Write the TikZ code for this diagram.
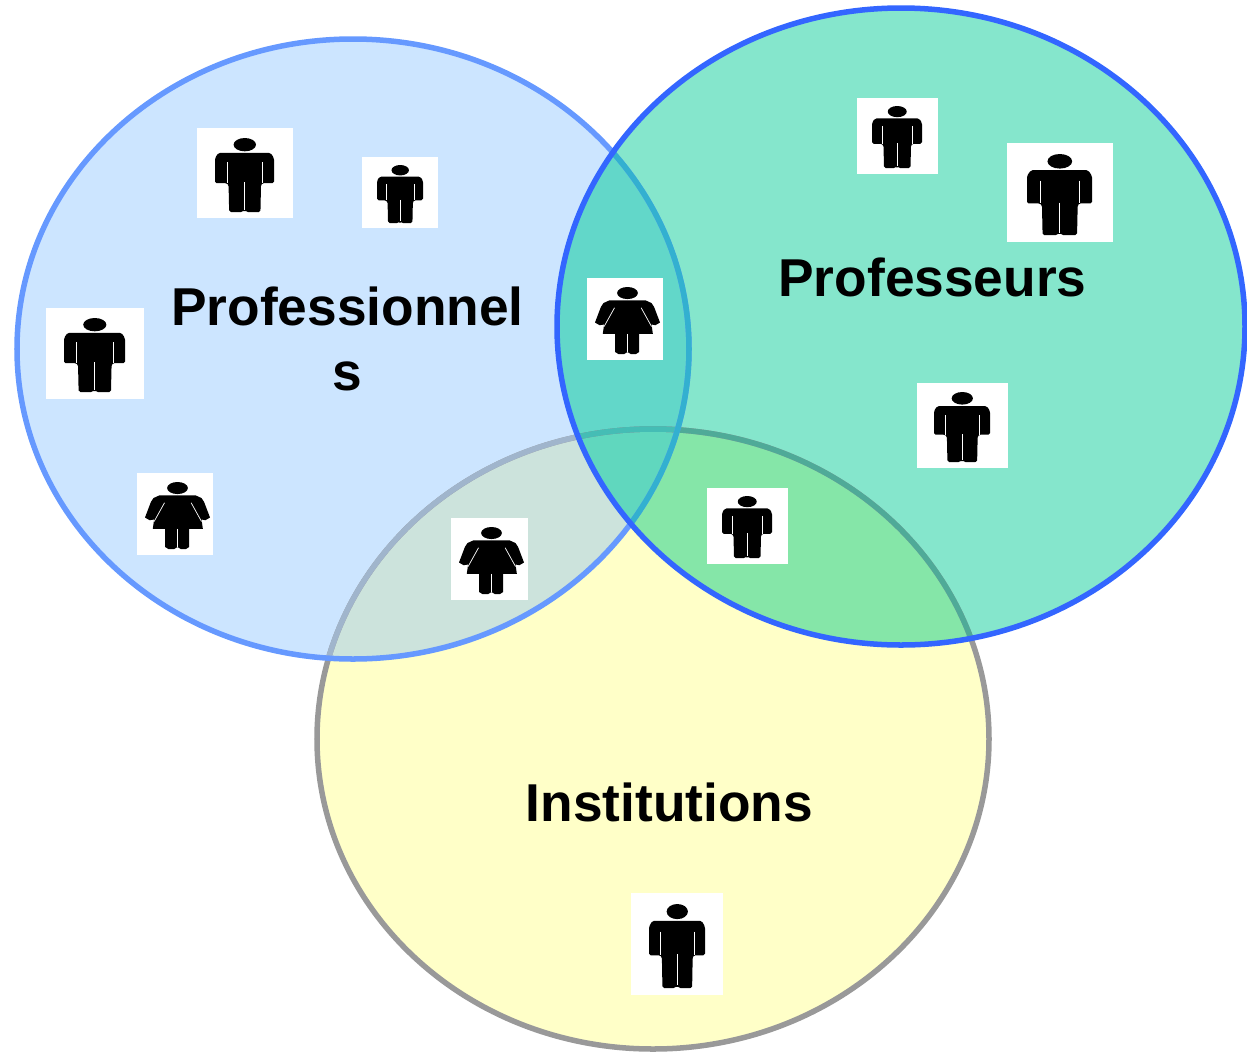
\documentclass[tikz,border=0pt]{standalone}
\usepackage{fontspec}
\setmainfont{Liberation Sans}
\definecolor{yfill}{HTML}{FFFFC8}
\definecolor{bfill}{HTML}{CCE5FF}
\definecolor{tfill}{HTML}{85E6CC}
\definecolor{ybfill}{HTML}{CCE3DC}
\definecolor{tbfill}{HTML}{62D7C9}
\definecolor{tyfill}{HTML}{85E6A8}
\definecolor{tbyfill}{HTML}{60D7BE}
\definecolor{gline}{HTML}{999999}
\definecolor{gbline}{HTML}{A0B5CC}
\definecolor{gtline}{HTML}{4FAA98}
\definecolor{gtbline}{HTML}{45BDB5}
\definecolor{bline}{HTML}{6699FF}
\definecolor{btline}{HTML}{33B0D0}
\definecolor{tline}{HTML}{3366FF}
\newcommand{\ellB}{(353,349) ellipse [x radius=336,y radius=310]}
\newcommand{\ellT}{(901,326.5) ellipse [x radius=344,y radius=318.5]}
\newcommand{\ellY}{(653,739) ellipse [x radius=336,y radius=310]}
\tikzset{
  ring/.style={line width=4.7pt},
  setlabel/.style={font=\fontsize{45.5}{55.5}\selectfont\bfseries,text=black,inner sep=0pt,align=center}
}
% box x0 y0 x1 y1, figure x0 y0 x1 y1
\newcommand{\manfig}[8]{%
  \fill[white] (#1,#2) rectangle (#3,#4);
  \begin{scope}[shift={(#5,#6)},x={({(#7-#5)*0.03cm},0)},y={(0,{-(#8-#6)*0.03cm})}]
    \fill[black] (.505,.09) ellipse [x radius=.19,y radius=.09];
    \fill[black,rounded corners=1.4pt] (.06,.2) -- (.94,.2) -- (1,.27) -- (1,.61) -- (.8,.61) -- (.78,.63) -- (.77,1) -- (.53,1) -- (.5,.97) -- (.47,1) -- (.24,1) -- (.23,.63) -- (.2,.61) -- (0,.61) -- (0,.27) -- cycle;
    \draw[white,line width=.45pt] (.5,.6) -- (.5,.97);
    \draw[white,line width=.4pt] (.2,.33) -- (.2,.61);
    \draw[white,line width=.4pt] (.8,.33) -- (.8,.61);
  \end{scope}}
\newcommand{\womanfig}[8]{%
  \fill[white] (#1,#2) rectangle (#3,#4);
  \begin{scope}[shift={(#5,#6)},x={({(#7-#5)*0.03cm},0)},y={(0,{-(#8-#6)*0.03cm})}]
    \fill[black] (.5,.09) ellipse [x radius=.16,y radius=.09];
    \fill[black] (.22,.2) -- (.78,.2) -- (.87,.24) -- (.91,.3) -- (1,.53) -- (.93,.57) -- (.87,.56) -- (.89,.7) -- (.68,.7) -- (.68,.97) -- (.63,1) -- (.55,1) -- (.5,.97) -- (.45,1) -- (.36,1) -- (.31,.97) -- (.31,.7) -- (.12,.7) -- (.14,.56) -- (.07,.57) -- (0,.53) -- (.09,.3) -- (.13,.24) -- cycle;
    \draw[white,line width=.6pt] (.5,.7) -- (.5,.97);
    \draw[white,line width=.6pt] (.3,.31) -- (.14,.59);
    \draw[white,line width=.6pt] (.71,.31) -- (.87,.59);
  \end{scope}}
\begin{document}
\begin{tikzpicture}[x=0.03cm,y=-0.03cm]
\useasboundingbox (0,0) rectangle (1247,1051);
% fills
\fill[yfill] \ellY;
\fill[bfill] \ellB;
\begin{scope}\clip \ellB; \fill[ybfill] \ellY; \end{scope}
\fill[tfill] \ellT;
\begin{scope}\clip \ellT; \fill[tbfill] \ellB; \fill[tyfill] \ellY;
  \begin{scope}\clip \ellB; \fill[tbyfill] \ellY; \end{scope}
\end{scope}
% institutions ring
\draw[ring,gline] \ellY;
\begin{scope}\clip \ellB; \draw[ring,gbline] \ellY; \end{scope}
\begin{scope}\clip \ellT; \draw[ring,gtline] \ellY;
  \begin{scope}\clip \ellB; \draw[ring,gtbline] \ellY; \end{scope}
\end{scope}
% professionnels ring
\draw[ring,bline] \ellB;
\begin{scope}\clip \ellT; \draw[ring,btline] \ellB; \end{scope}
% professeurs ring
\draw[ring,tline] \ellT;
% figures
\manfig{197}{128}{293}{218}{215}{138}{274}{212}
\manfig{362}{157}{438}{228}{377}{165}{423}{223}
\manfig{46}{308}{144}{399}{64}{318}{125}{392}
\womanfig{137}{473}{213}{555}{145}{482}{210}{549}
\womanfig{587}{278}{663}{360}{595}{287}{660}{354}
\womanfig{451}{518}{528}{600}{459}{527}{524}{594}
\manfig{857}{98}{938}{174}{872}{106}{922}{168}
\manfig{1007}{143}{1113}{242}{1027}{154}{1092}{235}
\manfig{917}{383}{1008}{468}{934}{392}{990}{462}
\manfig{707}{488}{788}{564}{722}{496}{772}{558}
\manfig{631}{893}{723}{995}{649}{904}{705}{988}
% labels
\node[setlabel] (pro) at (347.5,338.5) {Professionnel\\s};
\node[setlabel] (prf) at (932.5,277) {Professeurs};
\node[setlabel] (ins) at (669.5,802) {Institutions};
\end{tikzpicture}
\end{document}
